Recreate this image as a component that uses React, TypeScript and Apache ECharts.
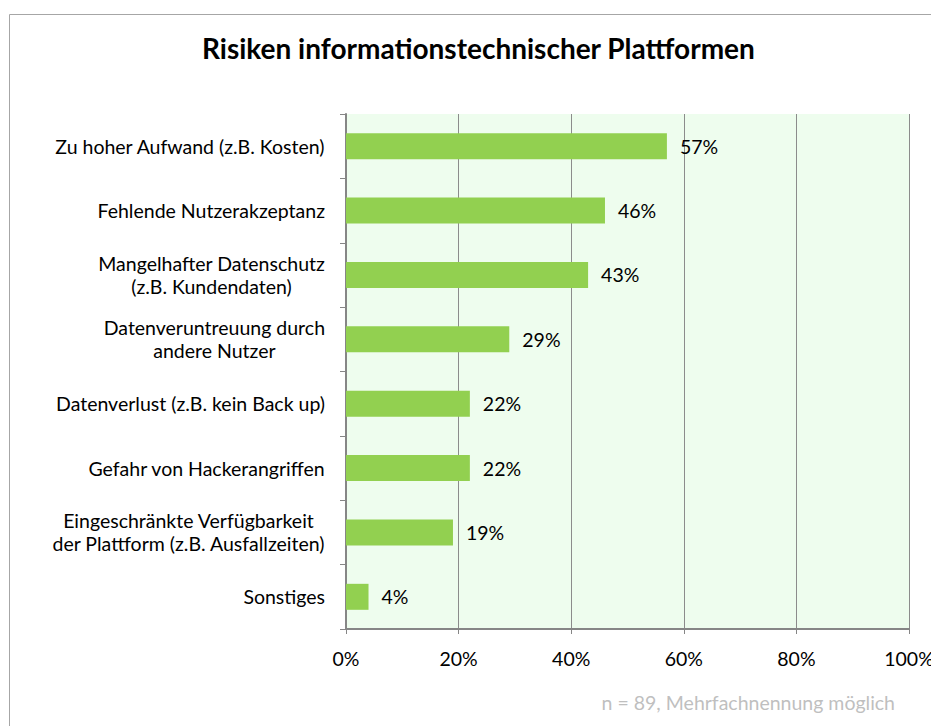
import React, { useEffect, useRef } from 'react';
import * as echarts from 'echarts';

const categories = [
  'Zu hoher Aufwand (z.B. Kosten)',
  'Fehlende Nutzerakzeptanz',
  'Mangelhafter Datenschutz\n(z.B. Kundendaten)',
  'Datenveruntreuung durch\nandere Nutzer',
  'Datenverlust (z.B. kein Back up)',
  'Gefahr von Hackerangriffen',
  'Eingeschränkte Verfügbarkeit\nder Plattform (z.B. Ausfallzeiten)',
  'Sonstiges',
];
const values = [57, 46, 43, 29, 22, 22, 19, 4];
const titleText = 'Risiken informationstechnischer Plattformen';
const noteText = 'n = 89, Mehrfachnennung möglich';

const FONT = 'Lato, "Noto Sans", sans-serif';
const FS = 19.5;

export default function App() {
  const ref = useRef<HTMLDivElement>(null);
  useEffect(() => {
    if (!ref.current) return;
    const chart = echarts.init(ref.current, null, { renderer: 'svg' });
    chart.setOption({
      animation: false,
      backgroundColor: '#ffffff',
      title: {
        text: titleText,
        left: 197,
        top: 29,
        textStyle: { fontFamily: FONT, fontSize: 28, fontWeight: 'bold', color: '#000' },
      },
      graphic: [
        {
          type: 'rect',
          shape: { x: 9.5, y: 14.5, width: 1000, height: 1000 },
          style: { fill: 'none', stroke: '#A6A6A6', lineWidth: 1 },
          z: -1,
        },
        {
          type: 'text',
          right: 36,
          top: 692,
          style: { text: noteText, fontFamily: FONT, fontSize: FS, fill: '#BFBFBF' },
        },
      ],
      grid: {
        left: 346,
        right: 22,
        top: 114,
        bottom: 97,
        containLabel: false,
        outerBoundsMode: 'none',
        show: true,
        backgroundColor: '#EEFDEE',
        borderWidth: 0,
      },
      xAxis: {
        type: 'value',
        min: 0,
        max: 100,
        interval: 20,
        axisLine: { show: true, lineStyle: { color: '#868686', width: 2 } },
        axisTick: { show: true, length: 5, lineStyle: { color: '#868686', width: 1 } },
        splitLine: { show: true, lineStyle: { color: '#8C8C8C', width: 1 } },
        axisLabel: {
          formatter: '{value}%',
          margin: 19,
          fontFamily: FONT,
          fontSize: FS,
          color: '#000',
        },
      },
      yAxis: {
        type: 'category',
        inverse: true,
        data: categories,
        axisLine: { show: true, lineStyle: { color: '#868686', width: 2 } },
        axisTick: { show: true, length: 6, lineStyle: { color: '#868686', width: 1 } },
        axisLabel: {
          margin: 21,
          align: 'right',
          fontFamily: FONT,
          fontSize: FS,
          color: '#000',
          lineHeight: 23,
          formatter: (v: string) =>
            v
              .split('\n')
              .map((l) => `{c|${l}}`)
              .join('\n'),
          rich: {
            c: { align: 'center', fontFamily: FONT, fontSize: FS, color: '#000', lineHeight: 23 },
          },
        },
      },
      series: [
        {
          type: 'bar',
          data: values,
          barWidth: 26,
          itemStyle: { color: '#92D050' },
          label: {
            show: true,
            position: 'right',
            distance: 13,
            formatter: '{c}%',
            fontFamily: FONT,
            fontSize: FS,
            color: '#000',
          },
        },
      ],
    });
    return () => chart.dispose();
  }, []);
  return (
    <div
      ref={ref}
      style={{ position: 'absolute', left: 0, top: 0, width: 931, height: 726 }}
    />
  );
}
